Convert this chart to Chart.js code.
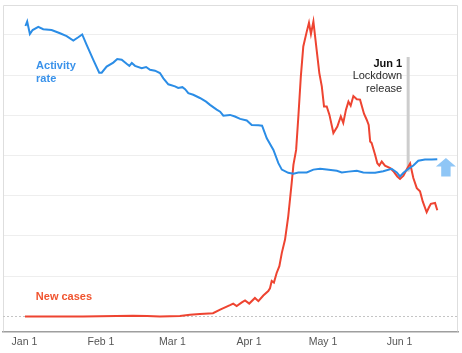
<!DOCTYPE html>
<html>
<head>
<meta charset="utf-8">
<script src="https://cdn.jsdelivr.net/npm/chart.js@4.4.1/dist/chart.umd.min.js"></script>
<style>
  html, body { margin: 0; padding: 0; background: #fff; }
  #wrap { width: 462px; height: 353px; position: relative; }
</style>
</head>
<body>
<div id="wrap"><canvas id="c" width="462" height="353"></canvas></div>
<script>
// X axis: days since Jan 1 (2020)
const tickDays = [0, 31, 60, 91, 121, 152];
const tickLabels = ['Jan 1', 'Feb 1', 'Mar 1', 'Apr 1', 'May 1', 'Jun 1'];
const yGridValues = [100, 200, 300, 400, 500, 600, 700];

// Activity rate (index units)
const activityDays = [0.4, 1.1, 2.2, 3.3, 5.6, 7.6, 11.0, 14.4, 17.1, 19.8, 21.8, 23.4, 25.2, 27.9, 30.3, 31.3, 33.3, 36.0, 37.6, 39.4, 41.4, 42.5, 43.5, 44.8, 47.5, 49.3, 50.9, 52.9, 54.9, 56.3, 58.3, 61.0, 62.3, 64.0, 65.1, 66.4, 68.4, 71.1, 73.6, 75.2, 77.9, 79.3, 80.6, 83.3, 85.3, 87.4, 90.1, 92.1, 94.8, 96.3, 98.2, 100.9, 102.9, 104.3, 106.9, 109.0, 111.0, 114.4, 117.1, 119.8, 122.5, 126.6, 128.6, 131.3, 134.7, 137.3, 140.1, 142.1, 145.4, 148.8, 150.9, 152.2, 153.6, 155.6, 157.6, 159.6, 162.3, 165.1, 167.3];
const activityValues = [722, 733, 702, 712, 720, 714, 712, 704, 697, 686, 694, 701, 675, 638, 606, 606, 621, 631, 640, 638, 628, 623, 630, 623, 617, 620, 613, 611, 605, 592, 577, 572, 568, 570, 565, 555, 551, 543, 534, 526, 514, 509, 499, 501, 497, 491, 487, 476, 475, 474, 443, 414, 381, 365, 357, 355, 358, 358, 365, 367, 365, 362, 358, 360, 362, 358, 357, 357, 361, 367, 358, 348, 357, 367, 375, 387, 390, 390, 391];

// New cases (same units)
const casesDays = [0.2, 23.7, 44.0, 49.7, 54.9, 63.0, 67.1, 71.1, 76.4, 79.3, 83.3, 84.6, 86.0, 88.1, 89.4, 91.1, 93.4, 94.8, 96.8, 98.8, 99.5, 100.2, 101.1, 102.2, 103.3, 104.3, 105.6, 106.9, 108.3, 109.0, 110.1, 111.0, 112.0, 113.0, 114.4, 115.3, 116.1, 117.1, 118.4, 119.5, 120.5, 121.4, 122.5, 123.6, 125.2, 126.8, 128.2, 129.2, 130.3, 131.3, 132.2, 133.3, 134.7, 136.0, 137.6, 138.7, 139.5, 140.1, 140.7, 142.1, 143.0, 143.8, 144.8, 146.1, 148.2, 149.5, 151.1, 152.2, 153.6, 154.9, 156.3, 157.6, 159.0, 160.3, 161.4, 163.0, 164.0, 164.7, 166.4, 167.3];
const casesValues = [0, 0, 2, 1, 0, 1, 4, 6, 8, 17, 28, 32, 26, 35, 40, 32, 46, 38, 52, 63, 70, 88, 84, 108, 125, 158, 191, 249, 332, 377, 414, 497, 596, 671, 708, 730, 702, 733, 663, 605, 572, 522, 522, 501, 456, 472, 497, 481, 514, 534, 524, 548, 540, 539, 504, 489, 476, 435, 431, 402, 381, 375, 385, 375, 369, 361, 348, 342, 350, 365, 380, 344, 319, 311, 286, 259, 272, 280, 282, 264];

const lockdownDay = 155.5;
const lockdownTop = 645;
const lockdownBottom = 360;

const blue = '#2b8de6';
const red = '#ee4431';

function pts(xs, ys) { return xs.map((x, i) => ({ x: x, y: ys[i] })); }

const FONT = '"Liberation Sans", Arial, sans-serif';

const decor = {
  id: 'decor',
  beforeDatasetsDraw(chart) {
    const { ctx, chartArea: a, scales: { x, y } } = chart;
    ctx.save();
    // frame (left, top, right)
    ctx.strokeStyle = '#dedede';
    ctx.lineWidth = 1;
    ctx.beginPath();
    ctx.moveTo(a.left + 0.5, a.bottom);
    ctx.lineTo(a.left + 0.5, a.top + 0.5);
    ctx.lineTo(a.right - 0.5, a.top + 0.5);
    ctx.lineTo(a.right - 0.5, a.bottom);
    ctx.stroke();
    // dashed zero line
    const y0 = Math.round(y.getPixelForValue(0)) + 0.5;
    ctx.strokeStyle = '#c4c4c4';
    ctx.setLineDash([2, 2]);
    ctx.beginPath();
    ctx.moveTo(a.left, y0);
    ctx.lineTo(a.right, y0);
    ctx.stroke();
    ctx.setLineDash([]);
    // lockdown line
    const lx = x.getPixelForValue(lockdownDay);
    ctx.strokeStyle = '#cdcdcd';
    ctx.lineWidth = 3;
    ctx.beginPath();
    ctx.moveTo(lx, y.getPixelForValue(lockdownTop));
    ctx.lineTo(lx, y.getPixelForValue(lockdownBottom));
    ctx.stroke();
    ctx.restore();
  },
  afterDatasetsDraw(chart) {
    const { ctx, scales: { x, y } } = chart;
    ctx.save();
    const lx = x.getPixelForValue(lockdownDay);
    const ty = y.getPixelForValue(lockdownTop);
    ctx.textAlign = 'right';
    ctx.textBaseline = 'alphabetic';
    ctx.fillStyle = '#111';
    ctx.font = 'bold 11px ' + FONT;
    ctx.fillText('Jun 1', lx - 6, ty + 10);
    ctx.fillStyle = '#2a2a2a';
    ctx.font = '11px ' + FONT;
    ctx.fillText('Lockdown', lx - 6, ty + 22.5);
    ctx.fillText('release', lx - 6, ty + 35.5);

    // series labels
    ctx.textAlign = 'left';
    ctx.font = 'bold 11px ' + FONT;
    ctx.fillStyle = '#3a92ea';
    const ax = x.getPixelForValue(4.7);
    const ay = y.getPixelForValue(615);
    ctx.fillText('Activity', ax, ay);
    ctx.fillText('rate', ax, ay + 12.5);
    ctx.fillStyle = '#f0542f';
    ctx.fillText('New cases', x.getPixelForValue(4.6), y.getPixelForValue(40));

    // up arrow at the end of activity line
    const cx = x.getPixelForValue(170.8);
    const tipY = y.getPixelForValue(394);
    const baseY = y.getPixelForValue(348);
    const headY = tipY + 8.5;
    ctx.fillStyle = '#8fc6f6';
    ctx.beginPath();
    ctx.moveTo(cx, tipY);
    ctx.lineTo(cx + 10, headY);
    ctx.lineTo(cx + 4.7, headY);
    ctx.lineTo(cx + 4.7, baseY);
    ctx.lineTo(cx - 4.7, baseY);
    ctx.lineTo(cx - 4.7, headY);
    ctx.lineTo(cx - 10, headY);
    ctx.closePath();
    ctx.fill();
    ctx.restore();
  }
};

new Chart(document.getElementById('c'), {
  type: 'line',
  data: {
    datasets: [
      {
        label: 'Activity rate',
        data: pts(activityDays, activityValues),
        borderColor: blue,
        borderWidth: 2,
        pointRadius: 0,
        tension: 0,
        fill: false
      },
      {
        label: 'New cases',
        data: pts(casesDays, casesValues),
        borderColor: red,
        borderWidth: 2,
        pointRadius: 0,
        tension: 0,
        fill: false
      }
    ]
  },
  options: {
    responsive: false,
    animation: false,
    devicePixelRatio: 1,
    layout: { padding: { left: 3, right: 4, top: 5, bottom: 1 } },
    plugins: { legend: { display: false }, tooltip: { enabled: false } },
    scales: {
      x: {
        type: 'linear',
        min: -8.7,
        max: 175.7,
        afterBuildTicks: (s) => { s.ticks = tickDays.map(v => ({ value: v })); },
        ticks: {
          callback: (v) => tickLabels[tickDays.indexOf(v)],
          font: { family: FONT, size: 10.5 },
          color: '#555',
          padding: 4,
          maxRotation: 0,
          autoSkip: false
        },
        grid: { display: false, drawTicks: false },
        border: { display: true, color: '#9e9e9e', width: 1.5 }
      },
      y: {
        type: 'linear',
        min: -37.2,
        max: 774.2,
        afterBuildTicks: (s) => { s.ticks = yGridValues.map(v => ({ value: v })); },
        ticks: { display: false },
        grid: { color: '#eeeeee', drawTicks: false, lineWidth: 1 },
        border: { display: false }
      }
    }
  },
  plugins: [decor]
});
</script>
</body>
</html>
